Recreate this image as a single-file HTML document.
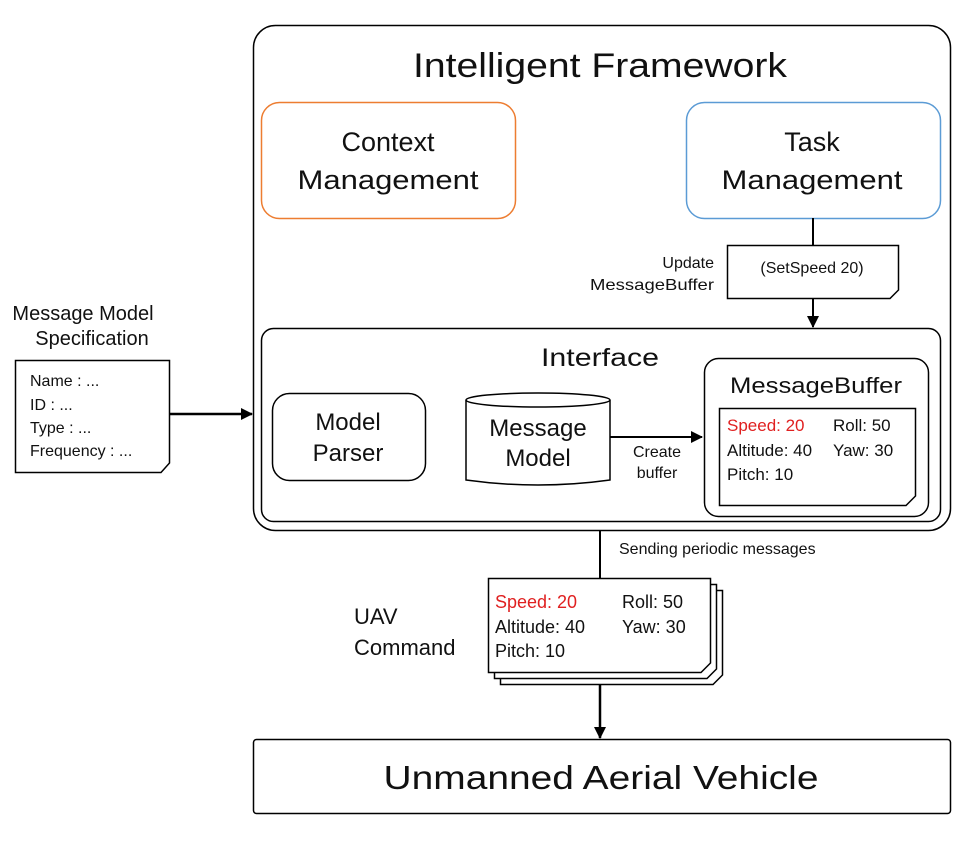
<!DOCTYPE html>
<html><head><meta charset="utf-8"><style>html,body{margin:0;padding:0;background:#fff}svg{display:block}text{font-family:"Liberation Sans",sans-serif;fill:#111}</style></head>
<body>
<svg width="971" height="841" viewBox="0 0 971 841" xmlns="http://www.w3.org/2000/svg">
<defs><marker id="a" markerWidth="12" markerHeight="12" refX="11" refY="6" orient="auto" markerUnits="userSpaceOnUse"><path d="M0,0 L12,6 L0,12 z" fill="#000"/></marker>
<marker id="b" markerWidth="12" markerHeight="12" refX="11" refY="6" orient="auto" markerUnits="userSpaceOnUse"><path d="M0,0 L12,6 L0,12 z" fill="#000"/></marker></defs>
<g fill="none" stroke="#000" stroke-width="1.5">
<rect x="253.5" y="25.5" width="697" height="505" rx="22"/>
<rect x="261.5" y="102.5" width="254" height="116" rx="18" stroke="#ED7D31"/>
<rect x="686.5" y="102.5" width="254" height="116" rx="18" stroke="#5B9BD5"/>
<rect x="261.5" y="328.5" width="679" height="193" rx="12"/>
<rect x="272.5" y="393.5" width="153" height="87" rx="17"/>
<rect x="704.5" y="358.5" width="224" height="158" rx="14"/>
<path d="M466,400 L466,480 Q538,490 610,480 L610,400"/>
<ellipse cx="538" cy="400" rx="72" ry="7"/>
<rect x="253.5" y="739.5" width="697" height="74" rx="3"/>
</g>
<g stroke="#000" stroke-width="1.5" fill="#fff">
<path d="M727.5,245.5 H898.5 V290 L890,298.5 H727.5 Z"/>
<path d="M15.5,360.5 H169.5 V463 L161,472.5 H15.5 Z"/>
<path d="M719.5,408.5 H915.5 V496 L906,505.5 H719.5 Z"/>
<path d="M500.5,590.5 H722.5 V675 L713,684.5 H500.5 Z"/>
<path d="M494.5,584.5 H716.5 V669 L707,678.5 H494.5 Z"/>
<path d="M488.5,578.5 H710.5 V663 L701,672.5 H488.5 Z"/>
</g>
<g stroke="#000" stroke-width="2" fill="none">
<line x1="813" y1="218" x2="813" y2="245"/>
<line x1="813" y1="298" x2="813" y2="327" marker-end="url(#a)"/>
<line x1="169" y1="414" x2="252" y2="414" stroke-width="2.5" marker-end="url(#b)"/>
<line x1="610" y1="437" x2="702" y2="437" marker-end="url(#b)"/>
<line x1="600" y1="531" x2="600" y2="578"/>
<line x1="600" y1="685" x2="600" y2="738" stroke-width="2.5" marker-end="url(#b)"/>
</g>
<text x="600" y="77" font-size="34" text-anchor="middle" textLength="374" lengthAdjust="spacingAndGlyphs">Intelligent Framework</text>
<text x="388" y="151" font-size="27" text-anchor="middle">Context</text>
<text x="388" y="189" font-size="27" text-anchor="middle" textLength="181" lengthAdjust="spacingAndGlyphs">Management</text>
<text x="812" y="151" font-size="27" text-anchor="middle">Task</text>
<text x="812" y="189" font-size="27" text-anchor="middle" textLength="181" lengthAdjust="spacingAndGlyphs">Management</text>
<text x="714" y="268" font-size="16" text-anchor="end">Update</text>
<text x="714" y="290" font-size="16" text-anchor="end" textLength="124" lengthAdjust="spacingAndGlyphs">MessageBuffer</text>
<text x="812" y="273" font-size="16" text-anchor="middle">(SetSpeed  20)</text>
<text x="600" y="366" font-size="25" text-anchor="middle" textLength="118" lengthAdjust="spacingAndGlyphs">Interface</text>
<text x="348" y="430" font-size="24" text-anchor="middle">Model</text>
<text x="348" y="461" font-size="24" text-anchor="middle">Parser</text>
<text x="538" y="436" font-size="24" text-anchor="middle">Message</text>
<text x="538" y="466" font-size="24" text-anchor="middle">Model</text>
<text x="657" y="457" font-size="16" text-anchor="middle">Create</text>
<text x="657" y="478" font-size="16" text-anchor="middle">buffer</text>
<text x="816" y="393" font-size="22" text-anchor="middle" textLength="172" lengthAdjust="spacingAndGlyphs">MessageBuffer</text>
<g font-size="17">
<text x="727" y="431" style="fill:#e02020">Speed: 20</text><text x="833" y="431">Roll: 50</text>
<text x="727" y="456">Altitude: 40</text><text x="833" y="456">Yaw: 30</text>
<text x="727" y="480">Pitch: 10</text>
</g>
<text x="83" y="320" font-size="20" text-anchor="middle">Message Model</text>
<text x="92" y="345" font-size="20" text-anchor="middle">Specification</text>
<g font-size="16"><text x="30" y="386">Name : ...</text><text x="30" y="410">ID : ...</text><text x="30" y="433">Type : ...</text><text x="30" y="456">Frequency : ...</text></g>
<text x="619" y="554" font-size="16">Sending periodic messages</text>
<text x="354" y="624" font-size="22">UAV</text>
<text x="354" y="655" font-size="22">Command</text>
<g font-size="18">
<text x="495" y="608" style="fill:#e02020">Speed: 20</text><text x="622" y="608">Roll: 50</text>
<text x="495" y="633">Altitude: 40</text><text x="622" y="633">Yaw: 30</text>
<text x="495" y="657">Pitch: 10</text>
</g>
<text x="601" y="789" font-size="33" text-anchor="middle" textLength="435" lengthAdjust="spacingAndGlyphs">Unmanned Aerial Vehicle</text>
</svg>
</body></html>
